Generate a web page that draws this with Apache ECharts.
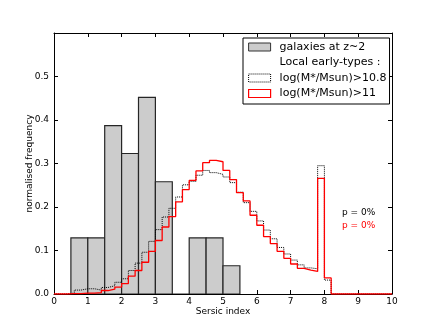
<!DOCTYPE html>
<html><head><meta charset="utf-8">
<script src="https://cdn.jsdelivr.net/npm/echarts@6/dist/echarts.min.js"></script>
<style>html,body{margin:0;padding:0;background:#fff}#c{width:436px;height:327px}</style>
</head><body><div id="c"></div>
<script>
// ---- data ----
const xTicks = [0,1,2,3,4,5,6,7,8,9,10];
const yTicks = [0.0,0.1,0.2,0.3,0.4,0.5];
const z2BinEdges = [0.5,1.0,1.5,2.0,2.5,3.0,3.5,4.0,4.5,5.0,5.5];
const z2Freq = [0.129,0.129,0.387,0.323,0.452,0.258,0.0,0.129,0.129,0.065];
const localBinStart = 0.0;
const localBinWidth = 0.2;
const localMass108 = [0,0,0.002,0.009,0.012,0.012,0.009,0.015,0.019,0.027,
  0.035,0.054,0.071,0.096,0.121,0.148,0.177,0.197,0.223,0.251,
  0.259,0.273,0.284,0.279,0.275,0.269,0.256,0.234,0.210,0.190,
  0.168,0.147,0.127,0.107,0.092,0.078,0.067,0.060,0.058,0.295,
  0.032,0,0,0,0,0,0,0,0,0];
const localMass11 = [0,0,0.001,0.001,0.002,0.002,0.003,0.008,0.011,0.016,
  0.024,0.041,0.054,0.073,0.098,0.123,0.154,0.178,0.212,0.240,
  0.261,0.283,0.302,0.307,0.304,0.284,0.263,0.233,0.214,0.181,
  0.158,0.132,0.116,0.098,0.082,0.069,0.059,0.055,0.052,0.266,
  0.037,0,0,0,0,0,0,0,0,0];
const seriesNames = ['galaxies at z~2','Local early-types :','log(M*/Msun)>10.8','log(M*/Msun)>11'];
const pLabels = ['p = 0%','p = 0%'];
const pColors = ['#000000','#ff0000'];
const pAnchor = [[8.52,0.187],[8.52,0.156]];

// ---- build ----
const barData = z2Freq.map((v,i)=>[z2BinEdges[i], z2BinEdges[i+1], v]);
function stepData(vals){
  const d = vals.map((v,i)=>[+(localBinStart + i*localBinWidth).toFixed(2), v]);
  d.push([+(localBinStart + vals.length*localBinWidth).toFixed(2), vals[vals.length-1]]);
  return d;
}
const FONT = 'DejaVu Sans';
const chart = echarts.init(document.getElementById('c'), null, {renderer:'canvas'});
const axisCommon = {
  min:0, splitLine:{show:false},
  axisLine:{show:true, onZero:false, lineStyle:{color:'#000', width:1}},
  axisTick:{show:true, inside:true, length:4, lineStyle:{color:'#000', width:1}}
};
chart.setOption({
  animation:false,
  backgroundColor:'#fff',
  textStyle:{fontFamily:FONT},
  grid:{left:54, right:44, top:33, bottom:33, containLabel:false},
  xAxis:[
    Object.assign({}, axisCommon, {type:'value', position:'bottom', max:10, interval:1,
      name:'Sersic index', nameLocation:'middle', nameGap:13, nameMoveOverlap:false,
      nameTextStyle:{fontSize:9, color:'#000', fontFamily:FONT},
      axisLabel:{fontSize:9, color:'#000', margin:3, fontFamily:FONT,
        formatter:v=>xTicks.includes(v)?String(v):''}}),
    Object.assign({}, axisCommon, {type:'value', position:'top', max:10, interval:1,
      axisLabel:{show:false}})
  ],
  yAxis:[
    Object.assign({}, axisCommon, {type:'value', position:'left', max:0.6, interval:0.1,
      name:'normalised frequency', nameLocation:'middle', nameGap:20, nameMoveOverlap:false,
      nameTextStyle:{fontSize:9, color:'#000', fontFamily:FONT},
      axisLabel:{fontSize:9, color:'#000', margin:5, fontFamily:FONT,
        formatter:v=>{const t=yTicks.find(k=>Math.abs(k-v)<1e-9); return t===undefined?'':t.toFixed(1);}}}),
    Object.assign({}, axisCommon, {type:'value', position:'right', max:0.6, interval:0.1,
      axisLabel:{show:false}})
  ],
  legend:{
    orient:'vertical', left:243, top:38, padding:[2.5,3,4,5],
    borderColor:'#000', borderWidth:1, backgroundColor:'#fff',
    itemWidth:22, itemHeight:8, itemGap:2.5, selectedMode:false,
    textStyle:{fontSize:11, fontFamily:FONT, color:'#000', lineHeight:13, padding:[0,0,0,4]},
    data:[
      {name:seriesNames[0], icon:'rect', itemStyle:{color:'#cccccc', borderColor:'#333', borderWidth:1}},
      {name:seriesNames[1], icon:'none', itemStyle:{opacity:0}},
      {name:seriesNames[2], icon:'rect', itemStyle:{color:'#fff', borderColor:'#000', borderWidth:1, borderType:'dotted'}},
      {name:seriesNames[3], icon:'rect', itemStyle:{color:'#fff', borderColor:'#ff0000', borderWidth:1.2}}
    ]
  },
  series:[
    {
      type:'custom', name:seriesNames[0], data:barData, encode:{x:[0,1], y:2},
      z:2, clip:true,
      renderItem:(params, api)=>{
        const p0 = api.coord([api.value(0), api.value(2)]);
        const p1 = api.coord([api.value(1), 0]);
        return {type:'rect', shape:{x:p0[0], y:p0[1], width:p1[0]-p0[0], height:p1[1]-p0[1]},
          style:{fill:'#cccccc', stroke:'#262626', lineWidth:1.2}};
      }
    },
    {type:'line', name:seriesNames[1], data:[]},
    {
      type:'line', name:seriesNames[2], data:stepData(localMass108), step:'end',
      showSymbol:false, symbol:'none', z:3,
      lineStyle:{color:'#000', width:1, type:'dotted'}, itemStyle:{color:'#000'}
    },
    {
      type:'line', name:seriesNames[3], data:stepData(localMass11), step:'end',
      showSymbol:false, symbol:'none', z:4,
      lineStyle:{color:'#ff0000', width:1.3}, itemStyle:{color:'#ff0000'}
    }
  ]
});
chart.setOption({
  graphic: pAnchor.map((p,i)=>{
    const px = chart.convertToPixel({xAxisIndex:0, yAxisIndex:0}, p);
    return {type:'text', x:px[0], y:px[1], z:10, silent:true,
      style:{text:pLabels[i], fill:pColors[i], font:'9px "DejaVu Sans"', textAlign:'left', textVerticalAlign:'middle'}};
  })
});
</script></body></html>
